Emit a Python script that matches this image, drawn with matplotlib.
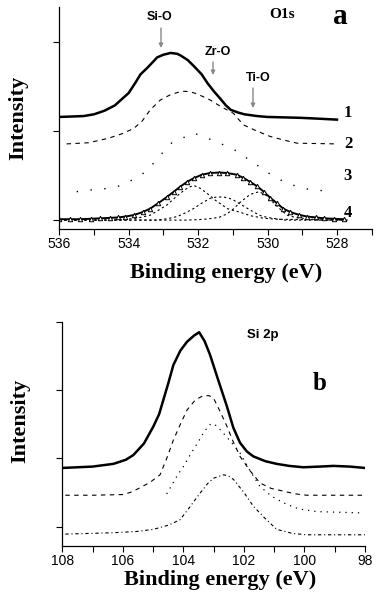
import numpy as np
import matplotlib.pyplot as plt
from matplotlib.ticker import MultipleLocator

# ================================================================
# Data
# ================================================================
# --- panel a : O1s ---
e1 = [536.0, 535.3, 535.0, 534.7, 534.4, 534.2, 534.0, 533.8, 533.66, 533.47,
      533.3, 533.18, 533.0, 532.79, 532.6, 532.5, 532.3, 532.12, 531.9, 531.73,
      531.55, 531.35, 531.2, 531.06, 530.85, 530.67, 530.3, 530.0, 529.5,
      529.03, 528.5, 528.0]
o1 = [1.16, 1.17, 1.19, 1.23, 1.29, 1.36, 1.43, 1.55, 1.64, 1.71,
      1.78, 1.83, 1.86, 1.88, 1.87, 1.85, 1.80, 1.73, 1.64, 1.54,
      1.45, 1.36, 1.29, 1.24, 1.21, 1.19, 1.17, 1.16, 1.155,
      1.15, 1.14, 1.13]

e2 = [535.79, 535.16, 534.59, 534.2, 533.86, 533.62, 533.38, 533.09, 532.8,
      532.47, 532.25, 532.03, 531.65, 531.36, 530.98, 530.85, 530.69, 530.3,
      529.92, 529.53, 529.15, 528.0]
o2 = [0.857, 0.87, 0.92, 0.97, 1.03, 1.11, 1.24, 1.35, 1.41,
      1.45, 1.445, 1.42, 1.35, 1.28, 1.20, 1.14, 1.07, 1.00,
      0.94, 0.90, 0.865, 0.857]

e3 = [535.5, 535.07, 534.87, 534.39, 534.2, 533.86, 533.72, 533.53, 533.33,
      532.8, 532.13, 531.46, 530.74, 530.45, 530.21, 530.11, 529.44, 528.76,
      528.33, 528.09]
o3 = [0.32, 0.34, 0.34, 0.375, 0.39, 0.46, 0.49, 0.54, 0.62,
      0.86, 0.98, 0.88, 0.75, 0.64, 0.60, 0.56, 0.41, 0.34,
      0.33, 0.33]

e4 = [536.0, 535.7, 535.4, 535.1, 534.83, 534.55, 534.3, 534.1, 533.86, 533.6,
      533.38, 533.15, 532.9, 532.7, 532.52, 532.32, 532.13, 531.9, 531.65,
      531.4, 531.17, 530.88, 530.7, 530.5, 530.3, 530.11, 529.92, 529.73,
      529.55, 529.34, 529.1, 528.86, 528.6, 528.38, 528.1, 527.8]
o4 = [0.01, 0.01, 0.01, 0.015, 0.02, 0.025, 0.03, 0.04, 0.056, 0.09,
      0.13, 0.19, 0.26, 0.32, 0.375, 0.43, 0.47, 0.51, 0.53,
      0.535, 0.53, 0.51, 0.475, 0.43, 0.38, 0.32, 0.25, 0.19,
      0.13, 0.09, 0.06, 0.04, 0.03, 0.02, 0.015, 0.01]

# fitted components of spectrum 4
e_sio = [536.0, 534.5, 534.1, 533.8, 533.6, 533.38, 533.15, 532.9, 532.7,
         532.52, 532.35, 532.23, 532.13, 531.95, 531.74, 531.6, 531.46, 531.3,
         531.17, 531.0, 530.8, 530.5, 530.1, 529.73, 527.7]
o_sio = [0.0, 0.0, 0.01, 0.02, 0.035, 0.056, 0.11, 0.17, 0.24,
         0.30, 0.35, 0.375, 0.39, 0.36, 0.30, 0.255, 0.21, 0.17,
         0.13, 0.11, 0.09, 0.05, 0.02, 0.01, 0.0]
e_zro = [536.0, 533.2, 532.9, 532.6, 532.35, 532.13, 531.9, 531.65, 531.45,
         531.27, 531.1, 530.98, 530.7, 530.4, 530.2, 530.0, 529.5, 527.7]
o_zro = [0.0, 0.0, 0.015, 0.04, 0.085, 0.13, 0.19, 0.245, 0.26,
         0.26, 0.245, 0.225, 0.16, 0.09, 0.05, 0.03, 0.0, 0.0]
e_tio = [536.0, 532.3, 531.8, 531.4, 531.17, 531.0, 530.79, 530.5, 530.24,
         530.0, 529.82, 529.6, 529.44, 529.2, 528.86, 528.5, 527.7]
o_tio = [0.0, 0.0, 0.01, 0.03, 0.07, 0.12, 0.20, 0.29, 0.32,
         0.27, 0.19, 0.11, 0.056, 0.03, 0.015, 0.0, 0.0]

# --- panel b : Si 2p ---
s1_e = [108.0, 107.0, 106.31, 105.9, 105.65, 105.3, 104.99, 104.8, 104.66,
        104.5, 104.33, 104.1, 103.88, 103.65, 103.48, 103.3, 103.12, 102.85,
        102.56, 102.35, 102.13, 101.9, 101.69, 101.3, 100.92, 100.5, 100.04,
        99.5, 99.05, 98.5, 98.0]
s1 = [0.86, 0.88, 0.92, 0.98, 1.05, 1.22, 1.47, 1.65, 1.86,
      2.10, 2.37, 2.58, 2.71, 2.80, 2.85, 2.72, 2.52, 2.15,
      1.76, 1.45, 1.23, 1.10, 1.03, 0.96, 0.92, 0.89, 0.87,
      0.88, 0.89, 0.88, 0.86]

s2_e = [107.9, 107.0, 105.98, 105.7, 105.43, 105.1, 104.77, 104.55, 104.33,
        104.1, 103.88, 103.6, 103.34, 103.15, 103.0, 102.8, 102.56, 102.35,
        102.13, 101.8, 101.47, 101.1, 100.7, 100.3, 99.93, 98.03]
s2 = [0.46, 0.46, 0.47, 0.51, 0.57, 0.65, 0.76, 1.00, 1.27,
      1.50, 1.71, 1.86, 1.92, 1.92, 1.88, 1.70, 1.47, 1.24,
      1.03, 0.82, 0.64, 0.56, 0.52, 0.48, 0.46, 0.46]

s3_e = [104.55, 104.38, 104.2, 104.0, 103.78, 103.5, 103.3, 103.09, 102.9,
        102.6, 102.35, 102.13, 101.8, 101.47, 101.1, 100.7, 100.2, 99.6, 98.05]
s3 = [0.48, 0.61, 0.75, 0.88, 1.05, 1.25, 1.40, 1.51, 1.48,
      1.33, 1.20, 1.08, 0.82, 0.59, 0.45, 0.35, 0.26, 0.22, 0.20]

s4_e = [107.9, 106.31, 105.5, 104.99, 104.5, 104.11, 103.8, 103.45, 103.2,
        103.0, 102.67, 102.5, 102.34, 102.0, 101.69, 101.3, 100.92, 100.4,
        99.93, 98.0]
s4 = [-0.11, -0.09, -0.07, -0.04, 0.02, 0.10, 0.28, 0.49, 0.63,
      0.71, 0.76, 0.74, 0.69, 0.50, 0.30, 0.12, -0.04, -0.10,
      -0.12, -0.12]

# ================================================================
# Figure
# ================================================================
W, H = 377, 599
fig = plt.figure(figsize=(W / 100, H / 100), dpi=100)

def px(x, y):
    return x / W, 1 - y / H

serif = 'Liberation Serif'
sans = 'Liberation Sans'

def style_axes(ax):
    ax.spines['top'].set_visible(False)
    ax.spines['right'].set_visible(False)
    for s in ('left', 'bottom'):
        ax.spines[s].set_linewidth(0.9)
    ax.tick_params(which='both', direction='out', length=4, width=0.8,
                   labelsize=10, pad=2)
    ax.set_yticklabels([])
    for lab in ax.get_xticklabels():
        lab.set_fontfamily(sans)

# ---------------- panel a ----------------
axa = fig.add_axes([59.3 / W, 1 - 229 / H, (371.7 - 59.3) / W, (229 - 6.7) / H])
axa.plot(e1, o1, 'k-', lw=1.8)
axa.plot(e2, o2, 'k', lw=0.8, ls=(0, (4, 4)))
axa.plot(e3, o3, 'k', lw=1.0, ls=(0, (1, 9)))
for ee, oo in [(e_sio, o_sio), (e_zro, o_zro), (e_tio, o_tio)]:
    axa.plot(ee, oo, 'k', lw=0.8, ls=(0, (2, 2.5)))
axa.plot(e4, o4, 'k-', lw=1.4, marker='^', ms=3.2, mfc='white', mew=0.7)
axa.set_xlim(536, 527)
axa.set_ylim(-0.10, 2.40)
axa.xaxis.set_major_locator(MultipleLocator(2))
axa.xaxis.set_minor_locator(MultipleLocator(1))
axa.set_yticks([0, 1, 2])
style_axes(axa)

# ---------------- panel b ----------------
axb = fig.add_axes([62.3 / W, 1 - 545.7 / H, (365 - 62.3) / W, (545.7 - 322) / H])
axb.plot(s1_e, s1, 'k-', lw=1.8)
axb.plot(s2_e, s2, 'k', lw=0.8, ls=(0, (4, 4)))
axb.plot(s3_e, s3, 'k', lw=0.9, ls=(0, (1, 4)))
axb.plot(s4_e, s4, 'k', lw=0.8, ls=(0, (3, 2.5, 1, 2.5)))
axb.set_xlim(108, 98)
axb.set_ylim(-0.28, 3.0)
axb.xaxis.set_major_locator(MultipleLocator(2))
axb.xaxis.set_minor_locator(MultipleLocator(1))
axb.set_yticks([0, 1, 2, 3])
style_axes(axb)

# ---------------- texts ----------------
def ftext(x, y, s, **kw):
    fig.text(*px(x, y), s, ha='center', va='center', **kw)

ftext(18, 118, 'Intensity', rotation=90, family=serif, weight='bold', fontsize=16)
ftext(226, 273, 'Binding energy (eV)', family=serif, weight='bold', fontsize=16)
ftext(20, 421, 'Intensity', rotation=90, family=serif, weight='bold', fontsize=16)
ftext(220, 580, 'Binding energy (eV)', family=serif, weight='bold', fontsize=16)

ftext(340, 17, 'a', family=serif, weight='bold', fontsize=21)
ftext(282, 15, 'O1s', family=serif, weight='bold', fontsize=11)
ftext(320, 383, 'b', family=serif, weight='bold', fontsize=18)
ftext(263, 335, 'Si 2p', family=sans, weight='bold', fontsize=9.5)

for lab, y in [('1', 113), ('2', 144), ('3', 176), ('4', 213)]:
    ftext(348, y, lab, family=serif, weight='bold', fontsize=12)

for lab, tx, ty, ax_, y0, y1 in [('Si-O', 160, 17, 161, 28, 48),
                                 ('Zr-O', 218, 52, 213, 62, 75),
                                 ('Ti-O', 258, 78, 253, 88, 108)]:
    ftext(tx, ty, lab, family=sans, weight='bold', fontsize=9)
    fig.add_artist(plt.Annotation('', xy=px(ax_, y1), xytext=px(ax_, y0),
                                  xycoords='figure fraction',
                                  textcoords='figure fraction',
                                  arrowprops=dict(arrowstyle='-|>', color='#888888',
                                                  lw=1.0, mutation_scale=6,
                                                  shrinkA=0, shrinkB=0)))

fig.savefig('out.png', dpi=100)
